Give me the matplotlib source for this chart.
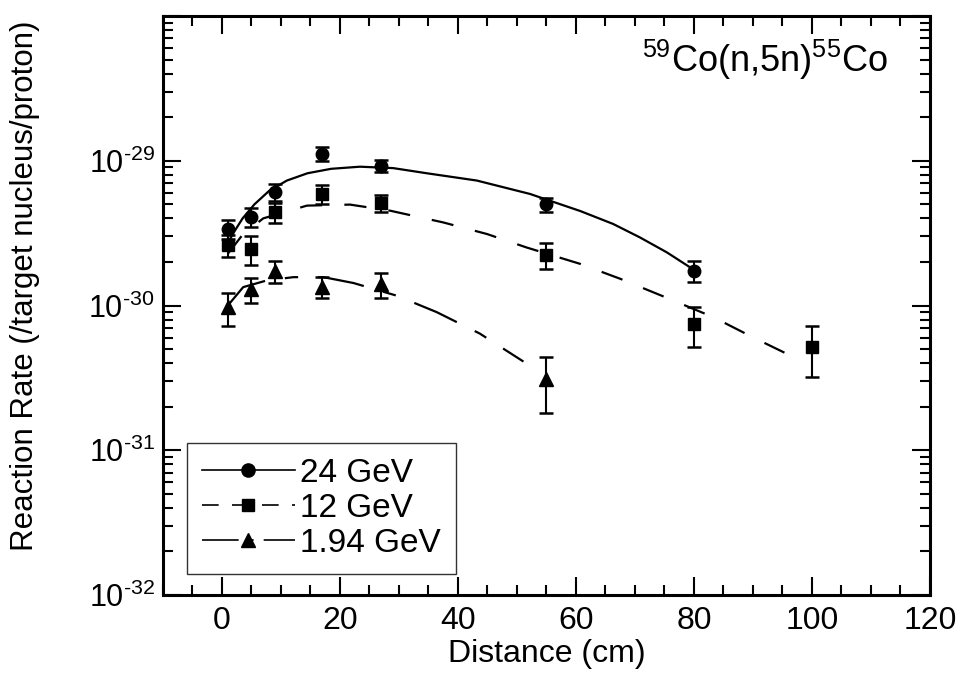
import numpy as np
import matplotlib
matplotlib.use("Agg")
import matplotlib.pyplot as plt
from matplotlib.ticker import MultipleLocator, LogLocator, FixedLocator, FuncFormatter, NullFormatter

plt.rcParams['font.family'] = ['Liberation Sans', 'DejaVu Sans']
plt.rcParams['mathtext.fontset'] = 'custom'
plt.rcParams['mathtext.rm'] = 'Liberation Sans'
plt.rcParams['mathtext.default'] = 'regular'

# measured reaction rates (/target nucleus/proton) vs distance (cm)
x_24 = [1, 5, 9, 17, 27, 55, 80]
y_24 = [3.4e-30, 4.1e-30, 6.1e-30, 1.12e-29, 9.2e-30, 5.0e-30, 1.74e-30]
e_24 = [0.5e-30, 0.6e-30, 0.8e-30, 1.2e-30, 0.9e-30, 0.55e-30, 0.28e-30]

x_12 = [1, 5, 9, 17, 27, 55, 80, 100]
y_12 = [2.6e-30, 2.45e-30, 4.4e-30, 5.9e-30, 5.1e-30, 2.25e-30, 7.5e-31, 5.2e-31]
e_12 = [0.45e-30, 0.55e-30, 0.7e-30, 0.9e-30, 0.7e-30, 0.47e-30, 0.23e-30, 0.2e-30]

x_194 = [1, 5, 9, 17, 27, 55]
y_194 = [9.7e-31, 1.3e-30, 1.74e-30, 1.35e-30, 1.4e-30, 3.1e-31]
e_194 = [0.25e-30, 0.26e-30, 0.3e-30, 0.23e-30, 0.28e-30, 0.13e-30]

# fitted curves
fx_24 = [1.0, 2.0, 3.5, 5.5, 8.0, 11.0, 14.5, 18.5, 23.4, 29.0, 34.7, 43.2, 52.2, 60.7, 66.3, 70.8, 75.4, 79.3]
fy_24 = [2.7e-30, 3.2e-30, 4.0e-30, 5.0e-30, 6.2e-30, 7.3e-30, 8.2e-30, 8.8e-30, 9.1e-30, 8.9e-30,
         8.2e-30, 7.3e-30, 5.9e-30, 4.5e-30, 3.66e-30, 2.96e-30, 2.33e-30, 1.84e-30]

fx_12 = [1.0, 3.6, 7.0, 14.4, 21.7, 28.5, 37.5, 44.9, 51.6, 60.7, 67.5, 75.4, 83.3, 90.1, 97.4]
fy_12 = [2.28e-30, 3.12e-30, 4.0e-30, 4.9e-30, 4.98e-30, 4.52e-30, 3.75e-30, 3.12e-30,
         2.52e-30, 1.94e-30, 1.53e-30, 1.13e-30, 8.3e-31, 6.0e-31, 4.3e-31]

fx_194 = [1.0, 3.6, 7.6, 12.1, 17.2, 22.3, 29.6, 36.4, 43.7, 51.1]
fy_194 = [1.0e-30, 1.34e-30, 1.49e-30, 1.57e-30, 1.57e-30, 1.43e-30, 1.17e-30, 9.0e-31, 6.4e-31, 4.1e-31]

labels = ['24 GeV', '12 GeV', '1.94 GeV']

fig = plt.figure(figsize=(9.62, 6.79), dpi=100)
ax = fig.add_axes([0.1694, 0.1237, 0.7973, 0.8527])

ebkw = dict(ls='none', color='black', ecolor='black', elinewidth=1.5, capsize=5, capthick=1.8)
ax.errorbar(x_24, y_24, yerr=e_24, marker='o', ms=9, **ebkw)
ax.errorbar(x_12, y_12, yerr=e_12, marker='s', ms=8.5, **ebkw)
ax.errorbar(x_194, y_194, yerr=e_194, marker='^', ms=9.5, **ebkw)

ax.plot(fx_24, fy_24, color='black', lw=1.6)
ax.plot(fx_12, fy_12, color='black', lw=1.6, dashes=(10, 10))
ax.plot(fx_194, fy_194, color='black', lw=1.6, dashes=(21, 9, 6, 9))

# legend handles: line and marker together
h1, = ax.plot([], [], color='black', lw=1.2, marker='o', ms=9.5)
h2, = ax.plot([], [], color='black', lw=1.2, marker='s', ms=9, dashes=(10, 8))
h3, = ax.plot([], [], color='black', lw=1.2, marker='^', ms=10, dashes=(22, 4, 5, 6))
leg = ax.legend([h1, h2, h3], labels, loc='lower left', bbox_to_anchor=(0.031, 0.036),
                fontsize=24, handlelength=2.8, numpoints=1, frameon=True, fancybox=False,
                edgecolor='black', borderpad=0.45, labelspacing=0.12, handletextpad=0.15,
                borderaxespad=0)
leg.get_frame().set_linewidth(1.0)

ax.set_xlim(-10, 120)
ax.set_yscale('log')
ax.set_ylim(1e-32, 1e-28)

ax.xaxis.set_major_locator(MultipleLocator(20))
ax.xaxis.set_minor_locator(MultipleLocator(5))
ax.yaxis.set_major_locator(FixedLocator([1e-32, 1e-31, 1e-30, 1e-29, 1e-28]))
ax.yaxis.set_minor_locator(LogLocator(base=10, subs=np.arange(2, 10)))
ax.yaxis.set_minor_formatter(NullFormatter())


def decade_fmt(v, pos):
    e = int(round(np.log10(v)))
    if e == -28:
        return ''
    return '10$^{\u2010%d}$' % abs(e)


ax.yaxis.set_major_formatter(FuncFormatter(decade_fmt))

ax.tick_params(which='both', direction='in', top=True, right=True, width=1.5)
ax.tick_params(which='major', length=13)
ax.tick_params(which='minor', length=7)
ax.tick_params(axis='x', pad=8, labelsize=23)
ax.tick_params(axis='y', pad=6, labelsize=22)
for sp in ax.spines.values():
    sp.set_linewidth(2.2)

ax.set_xlabel('Distance (cm)', fontsize=23, labelpad=2)
ax.set_ylabel('Reaction Rate (/target nucleus/proton)', fontsize=22.5)
ax.yaxis.set_label_coords(-0.16, 0.535)

ax.text(0.785, 0.925, '$^{59}$Co(n,5n)$^{55}$Co', transform=ax.transAxes,
        ha='center', va='center', fontsize=26)

fig.savefig('out.png', dpi=100)
